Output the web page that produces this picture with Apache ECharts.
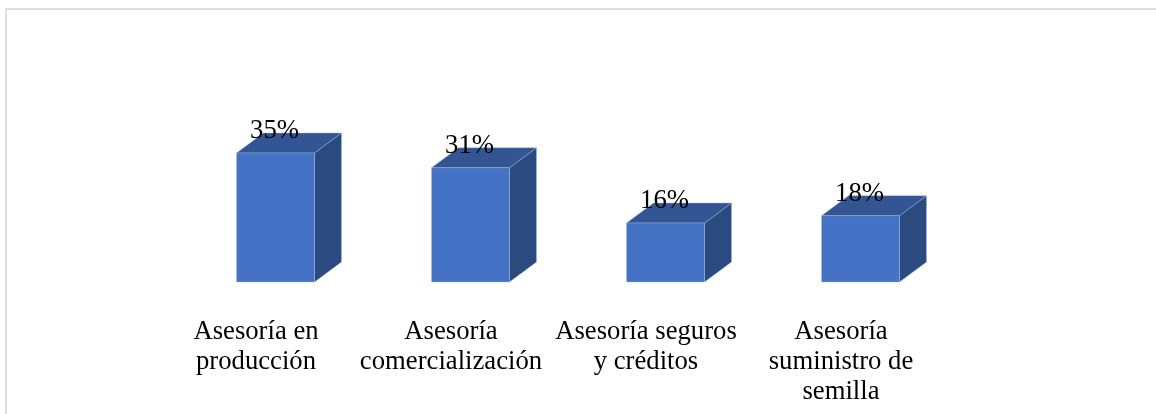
<!DOCTYPE html>
<html>
<head>
<meta charset="utf-8">
<style>
  html, body { margin: 0; padding: 0; background: #fff; }
  #chart { width: 1156px; height: 414px; }
</style>
<script src="https://cdn.jsdelivr.net/npm/echarts@6/dist/echarts.min.js"></script>
</head>
<body>
<div id="chart"></div>
<script>
  const categories = ['Asesoría en\nproducción', 'Asesoría\ncomercialización', 'Asesoría seguros\ny créditos', 'Asesoría\nsuministro de\nsemilla'];
  const values = [35, 31, 16, 18];

  const serif = '"Liberation Serif", serif';
  let myChart = echarts.init(document.getElementById('chart'));

  // 3d box: front face, top and side, the way the old office chart draws it
  function renderBox(params, api) {
    let base = api.coord([api.value(0), 0]);
    let top = api.coord([api.value(0), api.value(1)]);
    let x0 = base[0] - 19.5, x1 = x0 + 78;
    let dx = 27, dy = 20;
    let edge = { stroke: '#a9bde3', lineWidth: 0.4 };
    return {
      type: 'group',
      children: [
        { type: 'polygon', shape: { points: [[x1, top[1]], [x1 + dx, top[1] - dy], [x1 + dx, base[1] - dy], [x1, base[1]]] },
          style: { fill: '#2a4a80', ...edge } },
        { type: 'polygon', shape: { points: [[x0, top[1]], [x0 + dx, top[1] - dy], [x1 + dx, top[1] - dy], [x1, top[1]]] },
          style: { fill: '#335593', ...edge } },
        { type: 'rect', shape: { x: x0, y: top[1], width: x1 - x0, height: base[1] - top[1] },
          style: { fill: '#4472c4', ...edge } },
        { type: 'text', x: x0 + 38, y: top[1] - 22,
          style: { text: api.value(1) + '%', fill: '#000', font: '26.7px ' + serif, align: 'center', verticalAlign: 'middle' } }
      ]
    };
  }

  let option = {
    animation: false,
    backgroundColor: '#fff',
    graphic: [
      { type: 'polyline', silent: true, shape: { points: [[6, 414], [6, 9], [1156, 9]] },
        style: { fill: 'none', stroke: '#dedede', lineWidth: 2 } }
    ],
    grid: { left: 158.5, width: 780, top: 97.7, height: 184.3 },
    xAxis: {
      type: 'category',
      data: categories,
      axisLine: { show: false },
      axisTick: { show: false },
      axisLabel: { color: '#000', fontFamily: serif, fontSize: 26.7, lineHeight: 30, margin: 35, interval: 0 }
    },
    yAxis: {
      type: 'value',
      min: 0,
      max: 50,
      show: false
    },
    series: [
      { type: 'custom', renderItem: renderBox, data: categories.map((c, i) => [i, values[i]]), clip: false }
    ]
  };
  myChart.setOption(option);
</script>
</body>
</html>
